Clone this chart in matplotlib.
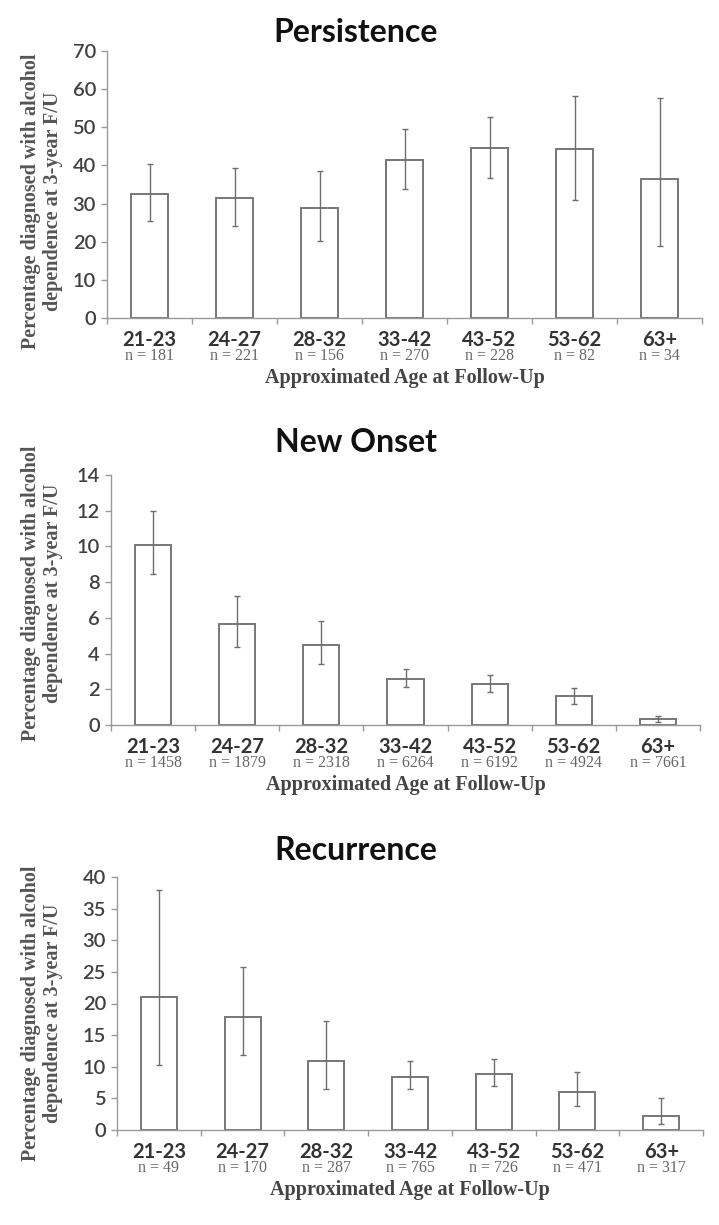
import matplotlib
matplotlib.use("Agg")
import matplotlib.pyplot as plt


age_groups = ["21-23", "24-27", "28-32", "33-42", "43-52", "53-62", "63+"]

persist_vals = [32.5, 31.4, 28.9, 41.4, 44.7, 44.2, 36.4]
persist_lo = [25.5, 24.0, 20.3, 33.7, 36.8, 30.9, 18.9]
persist_hi = [40.4, 39.3, 38.6, 49.5, 52.6, 58.3, 57.8]
persist_n = [181, 221, 156, 270, 228, 82, 34]

onset_vals = [10.1, 5.65, 4.5, 2.6, 2.3, 1.6, 0.34]
onset_lo = [8.45, 4.35, 3.42, 2.15, 1.85, 1.18, 0.19]
onset_hi = [12.0, 7.2, 5.8, 3.12, 2.82, 2.05, 0.5]
onset_n = [1458, 1879, 2318, 6264, 6192, 4924, 7661]

recur_vals = [21.0, 17.9, 10.9, 8.4, 8.9, 6.0, 2.2]
recur_lo = [10.3, 11.9, 6.5, 6.5, 6.9, 3.8, 0.9]
recur_hi = [38.0, 25.7, 17.3, 10.9, 11.3, 9.2, 5.0]
recur_n = [49, 170, 287, 765, 726, 471, 317]

SANS = "Lato"
SERIF = "Liberation Serif"
EDGE = "#777777"


def draw_panel(fig, rect, title, title_y, vals, lo, hi, ns, ymax, ystep, ylab_y):
    ax = fig.add_axes(rect)
    x = list(range(len(age_groups)))
    err = [[v - l for v, l in zip(vals, lo)], [h - v for v, h in zip(vals, hi)]]
    ax.bar(x, vals, width=0.43, color="white", edgecolor=EDGE, linewidth=1.4, zorder=2)
    ax.errorbar(x, vals, yerr=err, fmt="none", ecolor="#6e6e6e", elinewidth=1.0,
                capsize=2, capthick=1.0, zorder=3)

    ax.set_xlim(-0.5, 6.5)
    ax.set_ylim(0, ymax)
    ax.set_yticks(list(range(0, ymax + 1, ystep)))
    ax.set_xticks([i - 0.5 for i in range(8)])
    ax.set_xticklabels([])
    for s in ["top", "right"]:
        ax.spines[s].set_visible(False)
    for s in ["left", "bottom"]:
        ax.spines[s].set_color("#9a9a9a")
        ax.spines[s].set_linewidth(1.0)
    ax.tick_params(axis="both", color="#9a9a9a", length=4, width=1.0)
    ax.tick_params(axis="y", labelsize=14.5, labelcolor="#404040", pad=4)
    for lbl in ax.get_yticklabels():
        lbl.set_fontfamily(SANS)
        lbl.set_fontweight("semibold")

    for i, (g, n) in enumerate(zip(age_groups, ns)):
        ax.annotate(g, xy=(i, 0), xycoords=("data", "axes fraction"),
                    xytext=(0, -16), textcoords="offset points", ha="center", va="center",
                    fontsize=14.5, fontfamily=SANS, fontweight="bold", color="#333333")
        ax.annotate(f"n = {n}", xy=(i, 0), xycoords=("data", "axes fraction"),
                    xytext=(0, -27.5), textcoords="offset points", ha="center", va="center",
                    fontsize=11.5, fontfamily=SERIF, color="#666666")
    ax.annotate("Approximated Age at Follow-Up", xy=(0.5, 0), xycoords="axes fraction",
                xytext=(0, -43), textcoords="offset points", ha="center", va="center",
                fontsize=14.5, fontfamily=SERIF, fontweight="bold", color="#444444")

    fig.text(0.495, 1 - title_y / 1225, title, ha="center", va="center",
             fontsize=23, fontfamily=SANS, fontweight="bold", color="#111111")
    fig.text(42 / 719, 1 - ylab_y / 1225,
             "Percentage diagnosed with alcohol\ndependence at 3-year F/U",
             rotation=90, ha="center", va="center", multialignment="center",
             fontsize=14.5, fontfamily=SERIF, fontweight="bold", color="#555555",
             linespacing=1.1)
    return ax


def main():
    fig = plt.figure(figsize=(7.19, 12.25), dpi=100)

    draw_panel(fig, [107 / 719, 1 - 318 / 1225, 595 / 719, 267 / 1225],
               "Persistence", 32, persist_vals, persist_lo, persist_hi, persist_n,
               70, 10, 201)
    draw_panel(fig, [111 / 719, 1 - 725 / 1225, 589 / 719, 250 / 1225],
               "New Onset", 442, onset_vals, onset_lo, onset_hi, onset_n,
               14, 2, 593)
    draw_panel(fig, [117 / 719, 1 - 1130 / 1225, 586 / 719, 253 / 1225],
               "Recurrence", 850, recur_vals, recur_lo, recur_hi, recur_n,
               40, 5, 1013)

    fig.savefig("out.png", dpi=100)


if __name__ == "__main__":
    main()
